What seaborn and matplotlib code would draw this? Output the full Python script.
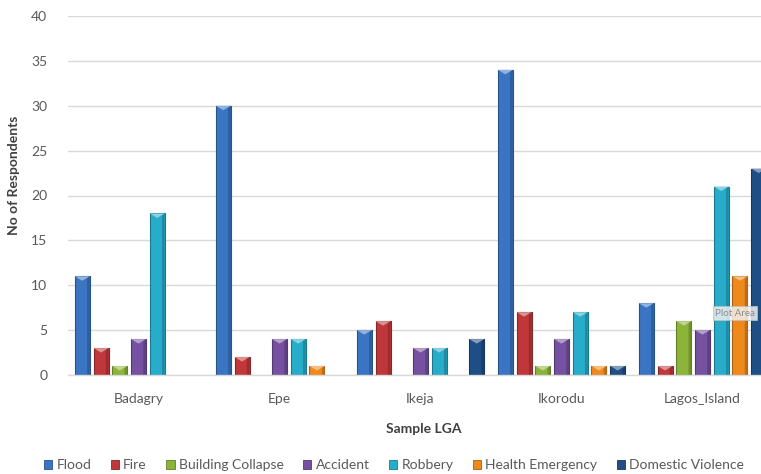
import numpy as np
import pandas as pd
import seaborn as sns
import matplotlib.pyplot as plt
from matplotlib.patches import Polygon
import matplotlib.colors as mcolors

lgas = ["Badagry", "Epe", "Ikeja", "Ikorodu", "Lagos_Island"]
incidents = ["Flood", "Fire", "Building Collapse", "Accident", "Robbery",
             "Health Emergency", "Domestic Violence"]
flood = [11, 30, 5, 34, 8]
fire = [3, 2, 6, 7, 1]
building_collapse = [1, 0, 0, 1, 6]
accident = [4, 4, 3, 4, 5]
robbery = [18, 4, 3, 7, 21]
health_emergency = [0, 1, 0, 1, 11]
domestic_violence = [0, 0, 4, 1, 23]

colors = ["#3A75C3", "#C0373A", "#8CB43A", "#7651A1", "#27ADCA", "#F0891C", "#1F4E86"]

series = [flood, fire, building_collapse, accident, robbery,
          health_emergency, domestic_violence]
rows = []
for name, vals in zip(incidents, series):
    for lga, v in zip(lgas, vals):
        rows.append({"LGA": lga, "Incident": name, "Count": v})
df = pd.DataFrame(rows)
df_drawn = df[df["Count"] > 0]

sns.set_theme(style="white")
plt.rcParams["font.family"] = ["Lato", "DejaVu Sans"]

W, H = 761, 474
fig = plt.figure(figsize=(W / 100, H / 100), dpi=100)
ax = fig.add_axes([68 / W, 1 - 375 / H, 705 / W, 359 / H])

palette = dict(zip(incidents, colors))
sns.barplot(data=df_drawn, x="LGA", y="Count", hue="Incident",
            order=lgas, hue_order=incidents, palette=palette,
            width=0.93, gap=0.2, saturation=1, errorbar=None,
            ax=ax, legend=False)

# bevelled look: darker outline and a light chevron at the top of each bar
for p in list(ax.patches):
    h = p.get_height()
    if h <= 0:
        continue
    fc = np.array(mcolors.to_rgb(p.get_facecolor()))
    p.set_edgecolor(tuple(fc * 0.7))
    p.set_linewidth(0.8)
    x, w = p.get_x(), p.get_width()
    light = tuple(np.clip(fc + (1 - fc) * 0.45, 0, 1))
    d = min(0.5, h * 0.6)
    tri = Polygon([(x, h), (x + w, h), (x + w / 2, h - d)], closed=True,
                  facecolor=light, edgecolor="none", zorder=p.get_zorder() + 0.1)
    ax.add_patch(tri)
    # darker right-hand shading
    shade = Polygon([(x + w * 0.82, 0), (x + w, 0), (x + w, h), (x + w * 0.82, h - d * 0.3)],
                    closed=True, facecolor=tuple(fc * 0.8), edgecolor="none",
                    zorder=p.get_zorder() + 0.05)
    ax.add_patch(shade)

ax.set_xlim(-0.5, len(lgas) - 0.5)
ax.set_ylim(0, 40)
ax.set_yticks(range(0, 41, 5))
ax.yaxis.grid(True, color="#D9D9D9", linewidth=1)
ax.set_axisbelow(True)
for s in ["top", "right", "left"]:
    ax.spines[s].set_visible(False)
ax.spines["bottom"].set_color("#D9D9D9")
ax.spines["bottom"].set_linewidth(1)
ax.tick_params(axis="both", length=0, labelsize=10, labelcolor="#595959")
ax.tick_params(axis="y", pad=15)
ax.tick_params(axis="x", pad=13)

ax.set_xlabel("Sample LGA", fontsize=10, fontweight="bold", color="#404040")
ax.set_ylabel("No of Respondents", fontsize=10, fontweight="bold", color="#404040")
ax.xaxis.set_label_coords((424 - 68) / 705, -(423 - 375) / 359)
ax.yaxis.set_label_coords(-(68 - 20) / 705, (375 - 175) / 359)

# legend along the bottom
handles = [plt.Rectangle((0, 0), 1, 1, facecolor=c,
                         edgecolor=tuple(np.array(mcolors.to_rgb(c)) * 0.7), linewidth=0.6)
           for c in colors]
fig.legend(handles, incidents, loc="center", bbox_to_anchor=(394 / W, 1 - 465 / H),
           ncol=7, frameon=False, fontsize=10, handlelength=0.6, handleheight=0.6,
           handletextpad=0.3, columnspacing=1.4, labelcolor="#595959")

# hover tooltip shown over the chart area
fig.text(735 / W, 1 - 313 / H, "Plot Area", fontsize=7, color="#8C8C8C",
         ha="center", va="center",
         bbox=dict(boxstyle="square,pad=0.25", facecolor="#F0F0F0",
                   edgecolor="#BFBFBF", linewidth=0.6, alpha=0.85))

fig.savefig("out.png", dpi=100)
